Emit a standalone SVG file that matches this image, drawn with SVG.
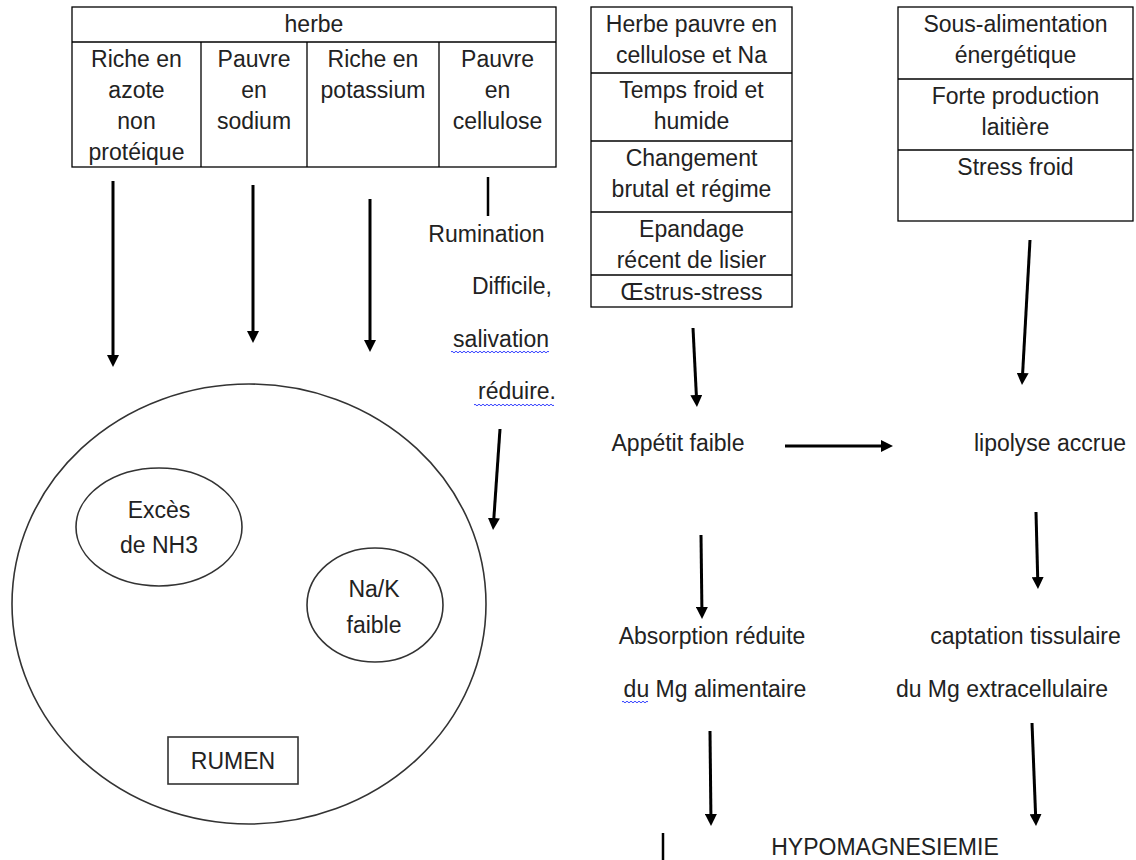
<svg xmlns="http://www.w3.org/2000/svg" width="1136" height="860" viewBox="0 0 1136 860">
<style>
.box{fill:#fff;stroke:#000;stroke-width:1.3}
.sep{stroke:#000;stroke-width:1.3}
.t{font-family:"Liberation Sans",Arial,sans-serif;font-size:23px;fill:#222}
.c{text-anchor:middle}
.e{text-anchor:end}
.arr{stroke:#000;stroke-width:3;fill:none;marker-end:url(#ah)}
.ln{stroke:#000;stroke-width:2.5;fill:none}
.shape{fill:none;stroke:#333;stroke-width:1.6}
.wave{fill:none;stroke:#3340ff;stroke-width:1}
</style>
<defs>
<marker id="ah" viewBox="0 0 12 12" refX="1" refY="6" markerWidth="12" markerHeight="12" markerUnits="userSpaceOnUse" orient="auto"><path d="M0,0 L12,6 L0,12 z" fill="#000"/></marker>
</defs>
<rect width="1136" height="860" fill="#fff"/>

<g id="herbe">
<rect class="box" x="72" y="7" width="484" height="160"/>
<line class="sep" x1="72" y1="42" x2="556" y2="42"/>
<line class="sep" x1="201" y1="42" x2="201" y2="167"/>
<line class="sep" x1="307" y1="42" x2="307" y2="167"/>
<line class="sep" x1="439" y1="42" x2="439" y2="167"/>
<text class="t c" x="314" y="32">herbe</text>
<text class="t c" x="136.5" y="67">Riche en</text>
<text class="t c" x="136.5" y="98">azote</text>
<text class="t c" x="136.5" y="129">non</text>
<text class="t c" x="136.5" y="160">protéique</text>
<text class="t c" x="254" y="67">Pauvre</text>
<text class="t c" x="254" y="98">en</text>
<text class="t c" x="254" y="129">sodium</text>
<text class="t c" x="373" y="67">Riche en</text>
<text class="t c" x="373" y="98">potassium</text>
<text class="t c" x="497.5" y="67">Pauvre</text>
<text class="t c" x="497.5" y="98">en</text>
<text class="t c" x="497.5" y="129">cellulose</text>
</g>

<g id="facteurs">
<rect class="box" x="591" y="7" width="201" height="300"/>
<line class="sep" x1="591" y1="73" x2="792" y2="73"/>
<line class="sep" x1="591" y1="141" x2="792" y2="141"/>
<line class="sep" x1="591" y1="212" x2="792" y2="212"/>
<line class="sep" x1="591" y1="275" x2="792" y2="275"/>
<text class="t c" x="691.5" y="32">Herbe pauvre en</text>
<text class="t c" x="691.5" y="63">cellulose et Na</text>
<text class="t c" x="691.5" y="98">Temps froid et</text>
<text class="t c" x="691.5" y="129">humide</text>
<text class="t c" x="691.5" y="166">Changement</text>
<text class="t c" x="691.5" y="197">brutal et régime</text>
<text class="t c" x="691.5" y="237">Epandage</text>
<text class="t c" x="691.5" y="268">récent de lisier</text>
<text class="t c" x="691.5" y="300">Œstrus-stress</text>
</g>

<g id="energie">
<rect class="box" x="898" y="7" width="235" height="214"/>
<line class="sep" x1="898" y1="79" x2="1133" y2="79"/>
<line class="sep" x1="898" y1="150" x2="1133" y2="150"/>
<text class="t c" x="1015.5" y="32">Sous-alimentation</text>
<text class="t c" x="1015.5" y="63">énergétique</text>
<text class="t c" x="1015.5" y="104">Forte production</text>
<text class="t c" x="1015.5" y="135">laitière</text>
<text class="t c" x="1015.5" y="175">Stress froid</text>
</g>

<g id="rumination">
<text class="t c" x="486.5" y="242">Rumination</text>
<text class="t e" x="552" y="294">Difficile,</text>
<text class="t e" x="549" y="347">salivation</text>
<text class="t e" x="556" y="399">réduire.</text>
<path class="wave" d="M451,352 q1,-1.6 2,0 t2,0 t2,0 t2,0 t2,0 t2,0 t2,0 t2,0 t2,0 t2,0 t2,0 t2,0 t2,0 t2,0 t2,0 t2,0 t2,0 t2,0 t2,0 t2,0 t2,0 t2,0 t2,0 t2,0 t2,0 t2,0 t2,0 t2,0 t2,0 t2,0 t2,0 t2,0 t2,0 t2,0 t2,0 t2,0 t2,0 t2,0 t2,0 t2,0 t2,0 t2,0 t2,0 t2,0 t2,0 t2,0 t2,0 t2,0 t2,0"/>
<path class="wave" d="M474,405 q1,-1.6 2,0 t2,0 t2,0 t2,0 t2,0 t2,0 t2,0 t2,0 t2,0 t2,0 t2,0 t2,0 t2,0 t2,0 t2,0 t2,0 t2,0 t2,0 t2,0 t2,0 t2,0 t2,0 t2,0 t2,0 t2,0 t2,0 t2,0 t2,0 t2,0 t2,0 t2,0 t2,0 t2,0 t2,0 t2,0 t2,0 t2,0 t2,0 t2,0 t2,0"/>
</g>

<g id="rumen">
<ellipse class="shape" cx="249" cy="604" rx="237" ry="220"/>
<ellipse class="shape" cx="159" cy="527" rx="83" ry="59"/>
<text class="t c" x="159" y="518">Excès</text>
<text class="t c" x="159" y="553">de NH3</text>
<ellipse class="shape" cx="375" cy="605" rx="68" ry="57"/>
<text class="t c" x="374" y="597">Na/K</text>
<text class="t c" x="374" y="633">faible</text>
<rect class="shape" x="168" y="737" width="130" height="47"/>
<text class="t c" x="233" y="769">RUMEN</text>
</g>

<g id="appetit">
<text class="t c" x="678" y="451">Appétit faible</text>
</g>
<g id="lipolyse">
<text class="t c" x="1050" y="451">lipolyse accrue</text>
</g>
<g id="absorption">
<text class="t c" x="712" y="644">Absorption réduite</text>
<text class="t c" x="715" y="697">du Mg alimentaire</text>
<path class="wave" d="M622,702 q1,-1.6 2,0 t2,0 t2,0 t2,0 t2,0 t2,0 t2,0 t2,0 t2,0 t2,0 t2,0 t2,0 t2,0"/>
</g>
<g id="captation">
<text class="t c" x="1025.5" y="644">captation tissulaire</text>
<text class="t c" x="1002" y="697">du Mg extracellulaire</text>
</g>
<g id="hypomagnesiemie">
<text class="t c" x="885" y="855">HYPOMAGNESIEMIE</text>
</g>

<g id="connectors">
<line class="arr" x1="113" y1="181" x2="113" y2="356"/>
<line class="arr" x1="253" y1="185" x2="253" y2="332"/>
<line class="arr" x1="370" y1="199" x2="370" y2="341"/>
<line class="ln" x1="488" y1="177" x2="488" y2="216"/>
<line class="arr" x1="500" y1="429" x2="493.8" y2="519"/>
<line class="arr" x1="693" y1="328" x2="696.4" y2="396"/>
<line class="arr" x1="1030" y1="240" x2="1022.6" y2="374"/>
<line class="arr" x1="785" y1="446" x2="882" y2="446"/>
<line class="arr" x1="701" y1="535" x2="701.9" y2="608"/>
<line class="arr" x1="1036" y1="512" x2="1037.7" y2="578"/>
<line class="arr" x1="710" y1="731" x2="710.9" y2="815"/>
<line class="arr" x1="1032" y1="723" x2="1035.6" y2="815"/>
<line class="ln" x1="663" y1="833" x2="663" y2="860"/>
</g>
</svg>
